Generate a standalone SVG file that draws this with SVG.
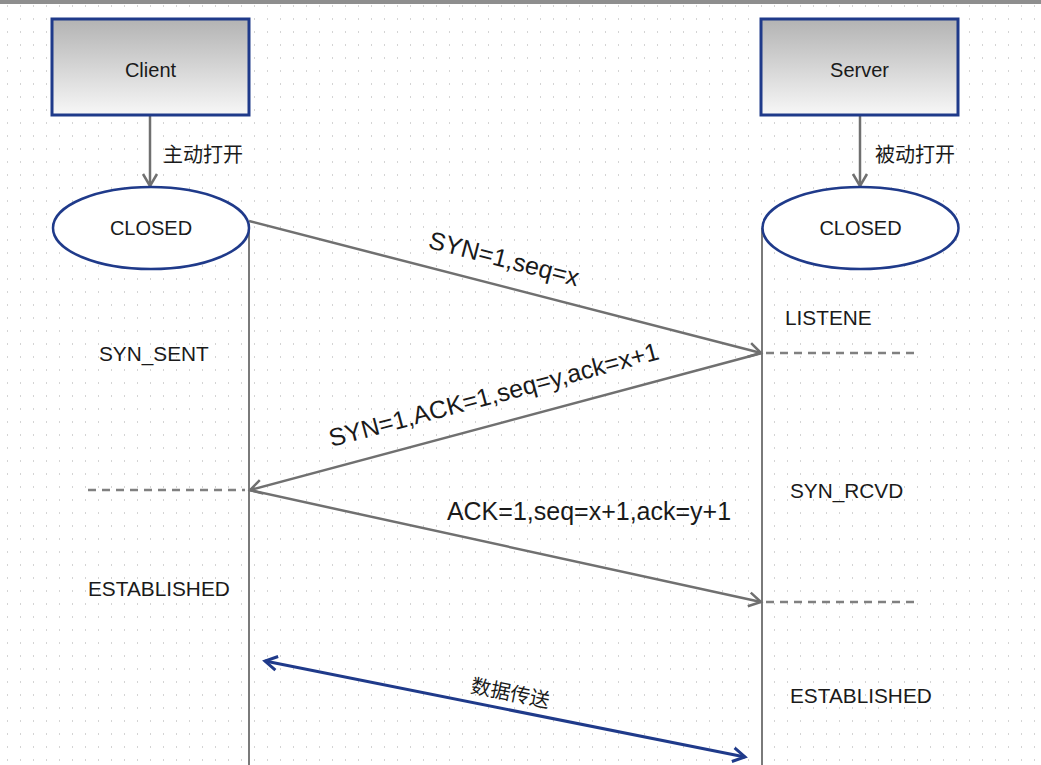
<svg xmlns="http://www.w3.org/2000/svg" width="1041" height="765" viewBox="0 0 1041 765">
<defs>
<pattern id="dots" patternUnits="userSpaceOnUse" x="7" y="5" width="13" height="13">
<rect x="0" y="0" width="1" height="2" fill="#d4d4d4"/>
</pattern>
<linearGradient id="boxg" x1="0" y1="0" x2="0" y2="1">
<stop offset="0" stop-color="#b3b3b3"/>
<stop offset="1" stop-color="#f7f7f7"/>
</linearGradient>
<marker id="ag" markerUnits="userSpaceOnUse" markerWidth="20" markerHeight="20" refX="13" refY="8" orient="auto-start-reverse" viewBox="0 0 20 16">
<path d="M1,1 L13,8 L1,15" fill="none" stroke="#707070" stroke-width="2.5"/>
</marker>
<marker id="ab" markerUnits="userSpaceOnUse" markerWidth="20" markerHeight="20" refX="13" refY="8" orient="auto-start-reverse" viewBox="0 0 20 16">
<path d="M1,1 L13,8 L1,15" fill="none" stroke="#1f3a8a" stroke-width="3"/>
</marker>
<style>
.box{fill:url(#boxg);stroke:#1f3a8a;stroke-width:3}
.ell{fill:#ffffff;stroke:#1f3a8a;stroke-width:2.5}
.t{font-family:"Liberation Sans",Arial,sans-serif;font-size:20px;fill:#1a1a1a}
.s{font-size:20.8px}
.c{text-anchor:middle}
.cj{font-family:"Liberation Sans","Noto Sans CJK SC",sans-serif;font-size:20px;fill:#1a1a1a}
.m{font-family:"Liberation Sans",Arial,sans-serif;font-size:25px;fill:#1a1a1a;text-anchor:middle}
.life{stroke:#7a7a7a;stroke-width:2;fill:none}
.msg{stroke:#707070;stroke-width:2.5;fill:none}
.dash{stroke:#808080;stroke-width:2.5;stroke-dasharray:8,6;fill:none}
</style>
</defs>
<rect x="0" y="0" width="1041" height="765" fill="#ffffff"/>
<rect x="0" y="0" width="1041" height="765" fill="url(#dots)"/>
<rect x="0" y="0" width="1041" height="4" fill="#8e8e8e"/>

<g id="connectors">
<line class="life" x1="249" y1="228" x2="249" y2="765"/>
<line class="life" x1="762" y1="228" x2="762" y2="765"/>
<line class="msg" x1="150" y1="116" x2="150" y2="186" marker-end="url(#ag)"/>
<line class="msg" x1="860" y1="116" x2="860" y2="186" marker-end="url(#ag)"/>
<line class="msg" x1="249" y1="221" x2="761" y2="353" marker-end="url(#ag)"/>
<line class="dash" x1="766" y1="353" x2="918" y2="353"/>
<line class="msg" x1="762" y1="353" x2="250" y2="490" marker-end="url(#ag)"/>
<line class="dash" x1="88" y1="490" x2="245" y2="490"/>
<line class="msg" x1="249" y1="490" x2="761" y2="602" marker-end="url(#ag)"/>
<line class="dash" x1="766" y1="602" x2="918" y2="602"/>
<line x1="265" y1="661" x2="745" y2="757" stroke="#1f3a8a" stroke-width="3" marker-start="url(#ab)" marker-end="url(#ab)"/>
<text class="cj" x="163" y="162">主动打开</text>
<text class="cj" x="875" y="162">被动打开</text>
<text class="m" transform="translate(502,267) rotate(14.5)">SYN=1,seq=x</text>
<text class="m" transform="translate(496,403) rotate(-15)">SYN=1,ACK=1,seq=y,ack=x+1</text>
<text class="m" x="589" y="520">ACK=1,seq=x+1,ack=y+1</text>
<text class="cj" text-anchor="middle" transform="translate(509,700) rotate(11.3)">数据传送</text>
</g>

<g id="client">
<rect class="box" x="52" y="19" width="197" height="96"/>
<text class="t c" x="150.5" y="77">Client</text>
</g>
<g id="server">
<rect class="box" x="761" y="19" width="197" height="96"/>
<text class="t c" x="859.5" y="77">Server</text>
</g>
<g id="client-closed">
<ellipse class="ell" cx="151" cy="228" rx="98" ry="41"/>
<text class="t c" x="151" y="235">CLOSED</text>
</g>
<g id="server-closed">
<ellipse class="ell" cx="860.5" cy="228" rx="98" ry="41"/>
<text class="t c" x="860.5" y="235">CLOSED</text>
</g>
<g id="syn-sent"><text class="t s" x="99" y="361">SYN_SENT</text></g>
<g id="listene"><text class="t s" x="785" y="325">LISTENE</text></g>
<g id="syn-rcvd"><text class="t s" x="790" y="498">SYN_RCVD</text></g>
<g id="client-established"><text class="t s" x="88" y="596">ESTABLISHED</text></g>
<g id="server-established"><text class="t s" x="790" y="703">ESTABLISHED</text></g>
</svg>
